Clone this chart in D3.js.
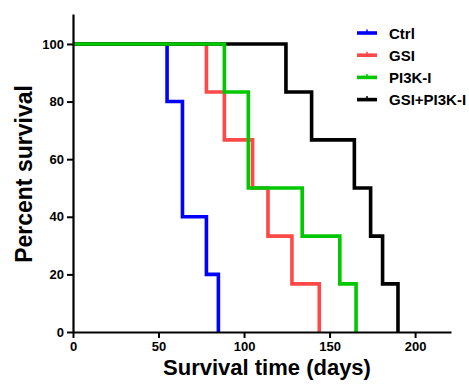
<!DOCTYPE html>
<html>
<head>
<meta charset="utf-8">
<script src="https://cdn.jsdelivr.net/npm/d3@7"></script>
<style>
  body { margin: 0; background: #fff; }
  svg text { font-family: "Liberation Sans", Arial, sans-serif; font-weight: bold; fill: #000; }
</style>
</head>
<body>
<svg id="chart" width="469" height="387"></svg>
<script>
// survival steps: day of each drop and the percent surviving after it
const groups = ['Ctrl', 'GSI', 'PI3K-I', 'GSI+PI3K-I'];
const colors = ['#0000ff', '#ff4848', '#00c800', '#000000'];

const ctrlDays = [55, 64, 78, 85];
const ctrlSurv = [80, 40, 20, 0];
const gsiDays = [78, 88.5, 105, 114, 128, 144];
const gsiSurv = [83.3, 66.7, 50, 33.3, 16.7, 0];
const pi3kDays = [88.5, 102.5, 134, 156, 165.5];
const pi3kSurv = [83.3, 50, 33.3, 16.7, 0];
const comboDays = [124.5, 139.5, 164.5, 174, 181, 190];
const comboSurv = [83.3, 66.7, 50, 33.3, 16.7, 0];

const xTicks = [0, 50, 100, 150, 200];
const yTicks = [0, 20, 40, 60, 80, 100];

const svg = d3.select('#chart');
const x = d3.scaleLinear().domain([0, 221]).range([73, 451]);
const y = d3.scaleLinear().domain([0, 110.4]).range([332, 14]);

const series = [
  { name: 'Ctrl', days: ctrlDays, surv: ctrlSurv },
  { name: 'GSI', days: gsiDays, surv: gsiSurv },
  { name: 'GSI+PI3K-I', days: comboDays, surv: comboSurv },
  { name: 'PI3K-I', days: pi3kDays, surv: pi3kSurv }
];

const line = d3.line()
  .x(d => x(d[0]))
  .y(d => y(d[1]))
  .curve(d3.curveStepAfter);

series.forEach(s => {
  const pts = [[0, 100]].concat(s.days.map((d, i) => [d, s.surv[i]]));
  svg.append('path')
    .attr('d', line(pts))
    .attr('fill', 'none')
    .attr('stroke', colors[groups.indexOf(s.name)])
    .attr('stroke-width', 3.6)
    .attr('stroke-linejoin', 'miter');
});

// axes
const xAxis = svg.append('g')
  .attr('transform', 'translate(0,332)')
  .call(d3.axisBottom(x).tickValues(xTicks).tickSize(6).tickPadding(4).tickSizeOuter(0));
const yAxis = svg.append('g')
  .attr('transform', 'translate(73,0)')
  .call(d3.axisLeft(y).tickValues(yTicks).tickSize(6).tickPadding(3).tickSizeOuter(0));

[xAxis, yAxis].forEach(a => {
  a.select('.domain').attr('stroke', '#000').attr('stroke-width', 2.2);
  a.selectAll('.tick line').attr('stroke', '#000').attr('stroke-width', 2);
  a.selectAll('.tick text').style('font-size', '13px').attr('fill', '#000');
});

// axis titles
svg.append('text')
  .attr('x', 267).attr('y', 375)
  .attr('text-anchor', 'middle')
  .style('font-size', '22px')
  .text('Survival time (days)');

svg.append('text')
  .attr('transform', 'translate(32,174) rotate(-90)')
  .attr('text-anchor', 'middle')
  .style('font-size', '23px')
  .text('Percent survival');

// legend
const legend = svg.append('g');
groups.forEach((g, i) => {
  const ly = 33 + i * 22.2;
  legend.append('line')
    .attr('x1', 357).attr('x2', 377).attr('y1', ly).attr('y2', ly)
    .attr('stroke', colors[i]).attr('stroke-width', 3.6);
  legend.append('line')
    .attr('x1', 367).attr('x2', 367).attr('y1', ly - 3.5).attr('y2', ly)
    .attr('stroke', colors[i]).attr('stroke-width', 1.5);
  legend.append('text')
    .attr('x', 389).attr('y', ly + 5.5)
    .style('font-size', '15px')
    .text(g);
});
</script>
</body>
</html>
